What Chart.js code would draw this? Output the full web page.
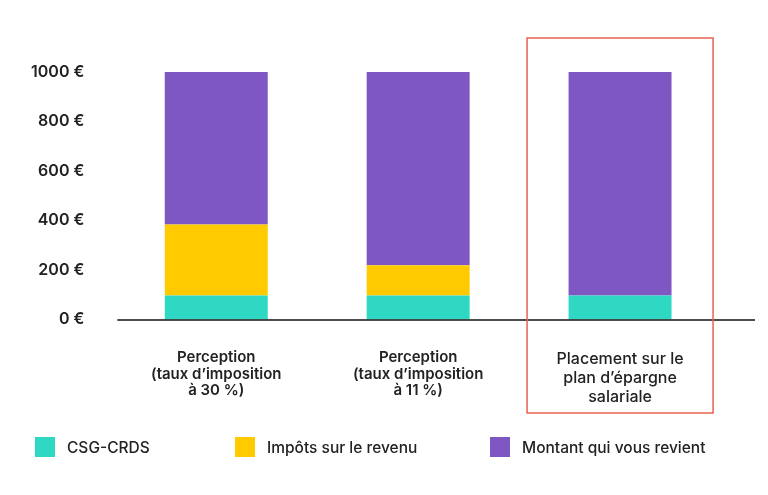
<!DOCTYPE html>
<html><head><meta charset="utf-8">
<script src="https://cdn.jsdelivr.net/npm/chart.js@4"></script>
<style>html,body{margin:0;padding:0;background:#fff}#w{width:768px;height:495px}</style>
</head><body><div id="w"><canvas id="c"></canvas></div>
<script>
const categories = [
  ["Perception","(taux d’imposition","à 30 %)"],
  ["Perception","(taux d’imposition","à 11 %)"],
  ["Placement sur le","plan d’épargne","salariale"]
];
const seriesNames = ["CSG-CRDS","Impôts sur le revenu","Montant qui vous revient"];
const csg = [97, 97, 97];
const impots = [287, 122, 0];
const montant = [616, 781, 903];
const yTicks = [0,200,400,600,800,1000];
const colors = ["#2ed8c3","#ffcb00","#7e57c2"];

const extras = {
  id:'extras',
  afterDraw(ch){
    const g=ch.ctx, a=ch.chartArea, x=ch.scales.x;
    g.save();
    g.strokeStyle='#111'; g.lineWidth=1.5;
    g.beginPath(); g.moveTo(a.left+2,a.bottom+0.5); g.lineTo(755,a.bottom+0.5); g.stroke();
    const cx=x.getPixelForValue(2);
    g.strokeStyle='#e8624f'; g.lineWidth=1.5;
    g.strokeRect(cx-93,38,186,375);
    const lx=[35,235,490];
    g.font='500 15.5px Inter'; g.textBaseline='middle'; g.fillStyle='#222';
    seriesNames.forEach((n,i)=>{
      g.fillStyle=colors[i]; g.fillRect(lx[i],437,20,20);
      g.fillStyle='#222'; g.fillText(n,lx[i]+32,448);
    });
    g.restore();
  }
};

new Chart(document.getElementById('c'),{
  type:'bar',
  data:{labels:categories,datasets:[
    {label:seriesNames[0],data:csg,backgroundColor:colors[0]},
    {label:seriesNames[1],data:impots,backgroundColor:colors[1]},
    {label:seriesNames[2],data:montant,backgroundColor:colors[2]}
  ]},
  plugins:[extras],
  options:{
    responsive:true,maintainAspectRatio:false,animation:false,
    layout:{padding:{top:72,right:47,bottom:58,left:0}},
    plugins:{legend:{display:false},tooltip:{enabled:false}},
    datasets:{bar:{categoryPercentage:1,barPercentage:0.51}},
    scales:{
      x:{stacked:true,grid:{display:false,drawTicks:false},border:{display:false},
        ticks:{padding:30,color:'#222',
          font:(c)=>({family:'Inter',weight:c.index===2?'500':'600',size:c.index===2?16:15,lineHeight:c.index===2?1.2:1.1})}},
      y:{stacked:true,min:0,max:1000,afterBuildTicks:(s)=>{s.ticks=yTicks.map(v=>({value:v}));},
        grid:{display:false,drawTicks:false},border:{display:false},
        ticks:{padding:31,color:'#222',font:{family:'Inter',weight:'600',size:16},callback:v=>v+' €'}}
    }
  }
});
</script></body></html>
